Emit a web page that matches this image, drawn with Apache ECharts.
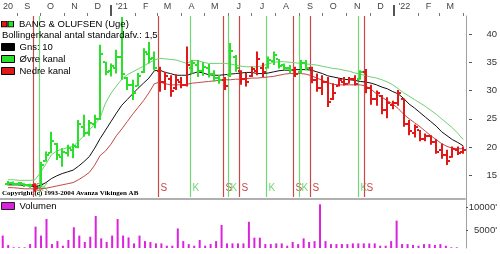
<!DOCTYPE html>
<html><head><meta charset="utf-8">
<script src="https://cdn.jsdelivr.net/npm/echarts@6/dist/echarts.min.js"></script>
<style>html,body{margin:0;padding:0;background:#fff}#c{width:500px;height:254px}</style>
</head><body><div id="c"></div>
<script>
// ---- data (weekly, B&O, Aug 2020 - Mar 2022) ----
const firstWeek = '2020-08-21';
const open = [13.5,13.7,13.5,13.5,13.3,13.2,13.0,17.5,19.0,20.5,
18.3,19.0,19.5,20.0,23.5,22.5,24.0,25.0,35.0,33.5,
34.0,36.0,32.2,31.0,30.8,33.2,36.5,35.8,33.5,31.5,
32.0,30.5,31.5,31.0,34.0,34.6,33.5,34.0,33.0,32.3,
31.8,32.8,36.0,33.5,32.0,32.5,33.5,34.0,34.0,35.2,
35.5,34.5,34.0,33.6,33.2,34.8,34.0,31.8,30.5,31.5,
28.5,30.8,31.5,31.2,32.0,32.0,33.2,30.5,28.5,29.0,
26.5,27.5,27.8,28.5,24.0,22.5,23.0,21.5,22.0,20.8,
19.5,18.5,18.3,19.5,19.2];
const close = [13.7,13.5,13.6,13.3,13.2,12.8,16.8,18.6,21.0,18.5,
19.2,19.8,20.2,24.0,22.5,24.2,25.0,36.5,33.2,34.3,
36.0,33.0,31.0,29.5,32.6,36.8,35.5,34.0,31.5,32.6,
30.0,31.8,31.0,34.5,34.8,33.5,34.2,33.0,32.2,31.8,
30.8,37.0,34.0,32.0,31.5,33.8,35.5,33.2,35.4,36.3,
34.3,34.0,33.6,33.0,34.8,34.0,31.8,30.5,31.5,28.0,
29.5,31.8,31.2,32.0,31.2,33.2,30.5,28.5,29.5,26.5,
27.8,27.8,29.5,24.0,22.8,23.5,21.5,22.0,20.8,19.2,
18.5,17.5,19.6,19.0,19.5];
const low = [13.2,13.2,13.1,12.9,12.8,12.1,12.9,17.4,18.9,17.7,
16.5,18.3,18.0,19.8,21.8,22.0,23.3,24.8,32.7,32.5,
33.0,31.9,30.1,28.3,30.7,33.1,34.8,33.6,29.8,30.1,
28.9,30.1,30.4,30.7,33.0,32.4,32.6,32.3,31.6,31.2,
30.1,32.4,33.3,31.0,30.7,32.4,32.7,32.4,33.9,34.5,
33.9,33.6,33.0,32.4,33.0,33.6,31.3,29.8,29.2,27.1,
28.3,30.7,30.9,31.2,30.9,31.9,29.5,27.5,27.3,25.8,
25.1,26.7,27.3,23.6,22.1,21.7,21.0,21.0,20.4,18.8,
17.9,16.8,18.1,18.6,18.8];
const high = [14.0,13.9,13.8,13.6,13.5,13.6,17.4,19.2,22.7,20.7,
19.8,20.4,20.6,24.8,25.7,24.8,25.7,38.1,35.1,34.8,
37.2,43.0,32.4,31.9,33.1,37.5,38.6,36.9,34.2,33.3,
32.7,32.9,32.4,37.8,35.4,35.4,35.0,34.7,33.6,32.7,
32.4,38.4,36.3,33.6,33.1,34.2,36.9,34.9,36.0,36.9,
35.6,34.8,34.5,34.2,35.4,35.4,34.2,33.0,32.7,32.4,
31.3,32.2,32.4,32.4,32.7,33.6,33.8,31.0,30.0,29.2,
28.8,28.2,30.1,28.6,24.8,24.0,23.0,22.4,22.1,21.4,
20.6,19.5,20.1,20.1,20.1];
const sma10 = [13.3,13.3,13.3,13.2,13.1,13.0,13.2,13.7,14.4,14.9,
15.3,15.6,15.9,16.6,17.4,18.3,19.8,21.5,23.0,24.5,
26.0,27.4,28.4,29.4,30.4,31.3,32.2,33.5,33.6,33.2,
33.0,32.7,32.7,32.7,33.0,33.3,33.1,32.8,32.7,32.7,
32.8,32.9,33.0,33.1,33.2,33.2,33.0,33.0,33.1,33.3,
33.5,33.6,33.6,33.7,33.7,33.7,33.6,33.3,33.0,32.6,
32.4,32.2,32.0,31.9,31.8,31.6,31.5,31.3,31.0,30.6,
30.3,29.8,29.4,28.6,27.6,26.9,26.1,25.3,24.5,23.7,
22.7,22.0,21.3,20.8,20.2];
const upperBand = [14.2,14.2,14.1,14.1,14.1,14.2,15.5,17.0,18.6,19.3,
19.6,19.9,20.1,21.0,22.0,23.0,24.0,25.2,27.8,29.5,
30.8,32.0,32.8,33.3,33.8,34.3,34.9,35.4,35.7,35.6,
35.5,35.4,35.1,34.8,35.3,35.3,35.0,34.8,34.8,34.8,
34.8,34.7,34.5,34.3,34.2,34.2,34.2,34.4,34.7,35.0,
35.1,35.1,35.0,34.9,34.8,34.7,34.6,34.5,34.3,34.1,
33.9,33.8,33.6,33.4,33.1,32.9,32.6,32.4,32.2,31.9,
31.5,31.0,30.3,29.6,29.0,28.4,27.8,27.2,26.5,25.8,
25.0,24.2,23.4,22.4,21.3];
const lowerBand = [12.8,12.8,12.7,12.6,12.6,12.6,12.6,12.7,12.9,13.1,
13.3,13.5,13.7,14.2,14.8,15.5,16.8,18.5,19.3,20.5,
22.0,23.2,24.5,25.8,27.0,28.2,29.6,31.2,31.5,31.2,
31.0,31.0,31.0,31.1,31.3,31.4,31.5,31.6,31.7,31.8,
31.9,31.9,32.0,32.0,32.1,32.2,32.2,32.3,32.4,32.5,
32.7,32.9,33.0,33.0,33.0,32.9,32.6,32.2,31.8,31.4,
31.1,31.0,31.0,31.0,31.0,31.0,30.8,30.2,29.4,28.8,
28.2,27.6,26.8,25.8,25.0,24.3,23.6,22.8,22.0,21.3,
20.6,20.1,19.8,19.7,19.7];
const volume = [3900,1850,1350,1350,1350,2050,5850,3900,7500,2050,
2700,1700,2950,5700,3900,2500,3650,8150,3300,2500,
3900,7500,3900,3500,2200,3900,2700,2500,2200,2200,
1700,1700,5450,2700,2050,1700,2950,1700,2050,2700,
6200,2200,2200,2200,2200,6900,3450,3450,2050,2050,
2200,2200,1700,2500,2050,3300,2500,2700,10700,2700,
2050,2050,2050,2050,2200,2200,2200,2200,2200,1700,
1700,2700,7150,2050,2050,1850,1700,2050,2050,1850,
2050,1700,1350,1350,null];
const signalWeek = [5,6,28,34,40,41,43,48,53,54,56,65,66];
const signalType = ['S','K','S','K','S','K','S','K','S','K','S','K','S'];
const topLabels = ['20','S','O','N','D',"'21",'F','M','A','M','J','J','A','S','O','N','D',"'22",'F','M'];
const priceTicks = [15,20,25,30,35,40];
const volumeTicks = [5000,10000];

// ---- helpers ----
const DAY = 86400000, WEEK = 7*DAY;
const t0 = Date.parse(firstWeek + 'T00:00:00Z');
const weeks = open.map((_, i) => t0 + i*WEEK);
const xMin = weeks[0] - WEEK/2, xMax = weeks[weeks.length-1] + WEEK/2;
const GREEN = '#2ae02a', RED = '#e01818';
const state = weeks.map((_, i) => {
  let s = 'K';
  signalWeek.forEach((w, k) => { if (w <= i) s = signalType[k]; });
  return s === 'K' ? 1 : 0;
});
const y0 = new Date(t0).getUTCFullYear(), m0 = new Date(t0).getUTCMonth();
const labelDates = topLabels.map((_, k) => k === 0 ? weeks[0] : Date.UTC(y0, m0 + k, 15));
const labelMap = {}; labelDates.forEach((d, k) => labelMap[d] = topLabels[k]);
const monthStarts = topLabels.map((_, k) => Date.UTC(y0, m0 + k + 1, 1)).filter(t => t <= xMax);
const tickData = monthStarts.map(t => [t, new Date(t).getUTCMonth() === 0 ? 1 : 0]);
const FONT = 'Liberation Sans';
const iconSvg = '<svg xmlns="http://www.w3.org/2000/svg" width="13" height="7"><rect x="0.5" y="0.5" width="5.5" height="6" fill="#e01818" stroke="#000"/><rect x="7" y="0.5" width="5.5" height="6" fill="#2ae02a" stroke="#000"/></svg>';

const chart = echarts.init(document.getElementById('c'), null, {renderer: 'canvas'});
chart.setOption({
  animation: false,
  backgroundColor: '#fff',
  textStyle: {fontFamily: FONT},
  title: [
    {text: 'Bollingerkanal antal standardafv.: 1,5', left: 2, top: 29, padding: 0,
     textStyle: {fontSize: 9.5, fontWeight: 'normal', color: '#000', fontFamily: FONT, lineHeight: 12}},
    {text: 'Copyright (c) 1993-2004 Avanza Vikingen AB', left: 2, top: 189, padding: 0,
     textStyle: {fontSize: 7, fontWeight: 'bold', color: '#000', fontFamily: 'Liberation Serif', lineHeight: 8}}
  ],
  legend: [
    {left: 1, top: 18, padding: 0, itemWidth: 13, itemHeight: 7, selectedMode: false,
     textStyle: {fontSize: 9.5, color: '#000', fontFamily: FONT, lineHeight: 12},
     data: [{name: 'BANG & OLUFSEN (Uge)', icon: 'image://data:image/svg+xml;charset=utf-8,' + encodeURIComponent(iconSvg)}]},
    {left: 1, top: 41, padding: 0, orient: 'vertical', itemGap: 0, itemWidth: 13, itemHeight: 7, selectedMode: false,
     textStyle: {fontSize: 9.5, color: '#000', fontFamily: FONT, lineHeight: 12},
     data: [
       {name: 'Gns: 10', icon: 'rect', itemStyle: {color: '#000', borderColor: '#000', borderWidth: 1}},
       {name: 'Øvre kanal', icon: 'rect', itemStyle: {color: GREEN, borderColor: '#000', borderWidth: 1}},
       {name: 'Nedre kanal', icon: 'rect', itemStyle: {color: RED, borderColor: '#000', borderWidth: 1}}
     ]},
    {left: 1, top: 200, padding: 0, itemWidth: 13, itemHeight: 7, selectedMode: false,
     textStyle: {fontSize: 9.5, color: '#000', fontFamily: FONT, lineHeight: 12},
     data: [{name: 'Volumen', icon: 'rect', itemStyle: {color: '#dd22dd', borderColor: '#222', borderWidth: 1}}]}
  ],
  grid: [
    {left: 0, right: 34, top: 16, height: 181},
    {left: 0, right: 34, top: 199, bottom: 6},
    {left: 0, right: 34, top: 16, bottom: 6}
  ],
  xAxis: [
    {type: 'value', gridIndex: 0, position: 'top', min: xMin, max: xMax,
     axisLine: {show: false}, splitLine: {show: false}, axisTick: {show: false},
     axisLabel: {show: true, customValues: labelDates, margin: 5, fontSize: 9, color: '#444', fontFamily: FONT,
       formatter: v => labelMap[v] || ''}},
    {type: 'value', gridIndex: 1, position: 'top', min: xMin, max: xMax,
     axisLine: {show: true, lineStyle: {color: '#b0b0b0', width: 2}},
     axisTick: {show: false}, axisLabel: {show: false}, splitLine: {show: false}},
    {type: 'value', gridIndex: 2, position: 'top', min: xMin, max: xMax, show: false}
  ],
  yAxis: [
    {type: 'value', gridIndex: 0, position: 'right', offset: 3, min: 11.15, max: 43.19,
     axisLine: {show: false}, splitLine: {show: false},
     axisTick: {show: true, length: 3, customValues: priceTicks, lineStyle: {color: '#555'}},
     axisLabel: {show: true, customValues: priceTicks, align: 'right', margin: 28, fontSize: 9.5, color: '#333', fontFamily: FONT}},
    {type: 'value', gridIndex: 1, position: 'right', offset: 1, min: 1200, max: 11850,
     axisLine: {show: false}, splitLine: {show: false},
     axisTick: {show: true, length: 2, customValues: volumeTicks, lineStyle: {color: '#555'}},
     axisLabel: {show: true, customValues: volumeTicks, align: 'right', margin: 31, fontSize: 9.5, color: '#333', fontFamily: FONT,
       formatter: v => v + "'"}},
    {type: 'value', gridIndex: 2, position: 'right', min: 0, max: 1,
     axisLine: {show: true, lineStyle: {color: '#a0a0a0', width: 1}},
     axisTick: {show: false}, axisLabel: {show: false}, splitLine: {show: false}}
  ],
  series: [
    {type: 'custom', name: 'monthTicks', xAxisIndex: 0, yAxisIndex: 0, z: 1, clip: false,
     data: tickData,
     renderItem: (params, api) => {
       const p = api.coord([api.value(0), 20]);
       const cs = params.coordSys;
       const year = api.value(1) === 1;
       const x = year ? Math.round(p[0]) : Math.round(p[0]) + 0.5;
       return {type: 'line', shape: {x1: x, y1: cs.y - (year ? 11 : 3), x2: x, y2: cs.y},
               style: {stroke: year ? '#555' : '#777', lineWidth: year ? 2 : 1}};
     }},
    {type: 'custom', name: 'signals', xAxisIndex: 0, yAxisIndex: 0, z: 1, clip: true,
     data: signalWeek.map((w, k) => [weeks[w], signalType[k] === 'S' ? 1 : 0]),
     renderItem: (params, api) => {
       const p = api.coord([api.value(0), 20]);
       const w = api.size([WEEK, 0])[0];
       const x = Math.round(p[0] - 0.37*w) + 0.5;
       const cs = params.coordSys;
       const sell = api.value(1) === 1;
       const col = sell ? '#c84848' : '#70d870';
       return {type: 'group', children: [
         {type: 'line', shape: {x1: x, y1: cs.y, x2: x, y2: cs.y + cs.height}, style: {stroke: col, lineWidth: 1.2}},
         {type: 'text', x: x + 2, y: cs.y + cs.height - 9,
          style: {text: sell ? 'S' : 'K', fill: col, font: '10px "Liberation Sans"', verticalAlign: 'middle', align: 'left'}}
       ]};
     }},
    {type: 'line', name: 'Øvre kanal', xAxisIndex: 0, yAxisIndex: 0, z: 2, showSymbol: false, symbol: 'none',
     data: weeks.map((t, i) => [t, upperBand[i]]), lineStyle: {color: '#6fd06f', width: 1}, itemStyle: {color: GREEN}},
    {type: 'line', name: 'Gns: 10', xAxisIndex: 0, yAxisIndex: 0, z: 2, showSymbol: false, symbol: 'none',
     data: weeks.map((t, i) => [t, sma10[i]]), lineStyle: {color: '#111', width: 1}, itemStyle: {color: '#000'}},
    {type: 'line', name: 'Nedre kanal', xAxisIndex: 0, yAxisIndex: 0, z: 2, showSymbol: false, symbol: 'none',
     data: weeks.map((t, i) => [t, lowerBand[i]]), lineStyle: {color: '#c04848', width: 1}, itemStyle: {color: RED}},
    {type: 'custom', name: 'BANG & OLUFSEN (Uge)', xAxisIndex: 0, yAxisIndex: 0, z: 3, clip: true,
     encode: {x: 0, y: [1, 2, 3, 4]},
     itemStyle: {color: GREEN},
     data: weeks.map((t, i) => [t, open[i], close[i], low[i], high[i], state[i]]),
     renderItem: (params, api) => {
       const t = api.value(0);
       const po = api.coord([t, api.value(1)]);
       const pc = api.coord([t, api.value(2)]);
       const pl = api.coord([t, api.value(3)]);
       const ph = api.coord([t, api.value(4)]);
       const x = Math.round(po[0]);
       const col = api.value(5) ? GREEN : RED;
       return {type: 'group', children: [
         {type: 'rect', shape: {x: x - 1, y: ph[1], width: 2, height: Math.max(1, pl[1] - ph[1])}, style: {fill: col}},
         {type: 'rect', shape: {x: x - 3, y: Math.round(po[1]) - 1, width: 2, height: 2}, style: {fill: col}},
         {type: 'rect', shape: {x: x + 1, y: Math.round(pc[1]) - 1, width: 2, height: 2}, style: {fill: col}}
       ]};
     }},
    {type: 'bar', name: 'Volumen', xAxisIndex: 1, yAxisIndex: 1, barWidth: 2, clip: true,
     itemStyle: {color: '#dd22dd'},
     data: weeks.map((t, i) => [t, volume[i]])}
  ]
});
</script></body></html>
